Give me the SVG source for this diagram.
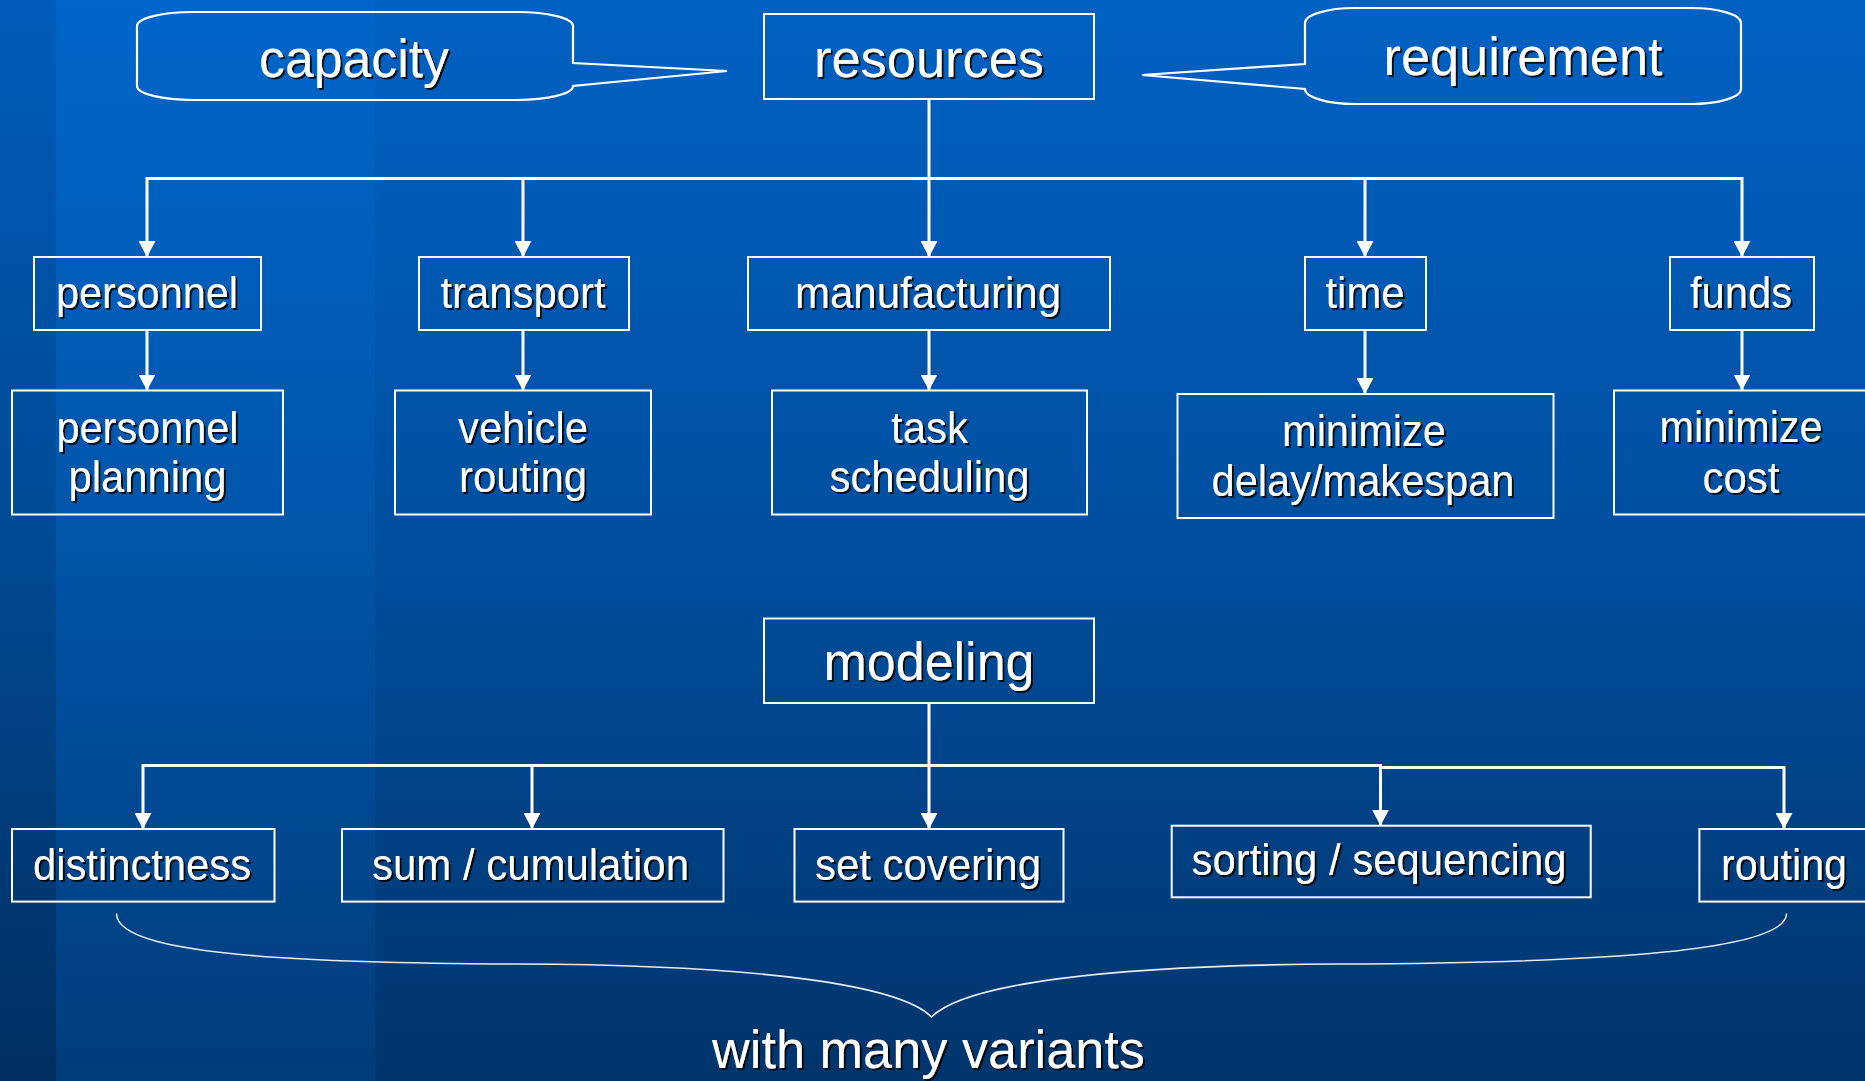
<svg xmlns="http://www.w3.org/2000/svg" width="1865" height="1081" viewBox="0 0 1865 1081">
<style>
.box{fill:none;stroke:#ffffff;stroke-width:2}
.call{fill:none;stroke:#ffffff;stroke-width:2.2;stroke-linejoin:miter}
.con{fill:none;stroke:#ffffff;stroke-width:3}
.brace{fill:none;stroke:#e6ecf5;stroke-width:1.6}
text{font-family:"Liberation Sans",Arial,Helvetica,sans-serif;fill:#ffffff;text-anchor:middle;filter:url(#sh)}
.big{font-size:54.5px}
.med{font-size:44px}
</style>
<defs>
<linearGradient id="bg" x1="0" y1="0" x2="0" y2="1">
<stop offset="0" stop-color="#0061c2"/>
<stop offset="0.5" stop-color="#004f9f"/>
<stop offset="1" stop-color="#00346b"/>
</linearGradient>
<linearGradient id="bgL" x1="0" y1="0" x2="0" y2="1">
<stop offset="0" stop-color="#0066cb"/>
<stop offset="0.5" stop-color="#0055a8"/>
<stop offset="1" stop-color="#003c7a"/>
</linearGradient>
<linearGradient id="bgD" x1="0" y1="0" x2="0" y2="1">
<stop offset="0" stop-color="#005bb8"/>
<stop offset="0.5" stop-color="#004a94"/>
<stop offset="1" stop-color="#002f61"/>
</linearGradient>
<filter id="sh" x="-10%" y="-20%" width="120%" height="140%">
<feDropShadow dx="2" dy="2" stdDeviation="0.3" flood-color="#000000" flood-opacity="0.85"/>
</filter>
<marker id="ah" markerUnits="userSpaceOnUse" markerWidth="16" markerHeight="17" viewBox="0 0 16 17" refX="16" refY="8.5" orient="auto">
<path d="M0,0 L16,8.5 L0,17 Z" fill="#ffffff"/>
</marker>
</defs>
<rect x="0" y="0" width="1865" height="1081" fill="url(#bg)"/>
<rect x="0" y="0" width="56" height="1081" fill="url(#bgD)"/>
<rect x="56" y="0" width="319" height="1081" fill="url(#bgL)"/>

<g id="connectors">
<path class="con" d="M929,99 V257" marker-end="url(#ah)"/>
<path class="con" d="M929,178.5 H147 V257" marker-end="url(#ah)"/>
<path class="con" d="M523,178.5 V257" marker-end="url(#ah)"/>
<path class="con" d="M929,178.5 H1742 V257" marker-end="url(#ah)"/>
<path class="con" d="M1365,178.5 V257" marker-end="url(#ah)"/>
<path class="con" d="M147,330 V390.5" marker-end="url(#ah)"/>
<path class="con" d="M523,330 V390.5" marker-end="url(#ah)"/>
<path class="con" d="M929,330 V390.5" marker-end="url(#ah)"/>
<path class="con" d="M1365,330 V394" marker-end="url(#ah)"/>
<path class="con" d="M1742,330 V390.5" marker-end="url(#ah)"/>
<path class="con" d="M929,703 V829" marker-end="url(#ah)"/>
<path class="con" d="M929,765.5 H143 V829" marker-end="url(#ah)"/>
<path class="con" d="M532,765.5 V829" marker-end="url(#ah)"/>
<path class="con" d="M929,765.5 H1380.5 V825.7" marker-end="url(#ah)"/>
<path class="con" d="M1380.5,767.5 H1784 V829" marker-end="url(#ah)"/>
<path class="brace" d="M116.5,913.5 C116.5,950 250,963 520,964 C760,965 900,985 931.5,1017 C963,985 1100,965 1340,964 C1610,963 1786.5,950 1786.5,913.5"/>
</g>

<g id="capacity">
<path class="call" d="M137,26 A56 14 0 0 1 193,12 L517,12 A56 14 0 0 1 573,26 L573,63 L727,71 L573,86 A56 14 0 0 1 517,100 L193,100 A56 14 0 0 1 137,86 Z"/>
<text class="big" x="354" y="77" textLength="190" lengthAdjust="spacingAndGlyphs">capacity</text>
</g>
<g id="resources">
<rect class="box" x="764" y="14" width="330" height="85"/>
<text class="big" x="929" y="76.5" textLength="230" lengthAdjust="spacingAndGlyphs">resources</text>
</g>
<g id="requirement">
<path class="call" d="M1305,64 L1305,23 A50 15 0 0 1 1355,8 L1691,8 A50 15 0 0 1 1741,23 L1741,89 A50 15 0 0 1 1691,104 L1355,104 A50 15 0 0 1 1305,89 L1142,75 Z"/>
<text class="big" x="1523" y="75" textLength="279" lengthAdjust="spacingAndGlyphs">requirement</text>
</g>

<g id="personnel">
<rect class="box" x="34" y="257" width="227" height="73"/>
<text class="med" x="147" y="308" textLength="182" lengthAdjust="spacingAndGlyphs">personnel</text>
</g>
<g id="transport">
<rect class="box" x="419" y="257" width="210" height="73"/>
<text class="med" x="523" y="308" textLength="165" lengthAdjust="spacingAndGlyphs">transport</text>
</g>
<g id="manufacturing">
<rect class="box" x="748" y="257" width="362" height="73"/>
<text class="med" x="928" y="308" textLength="266" lengthAdjust="spacingAndGlyphs">manufacturing</text>
</g>
<g id="time">
<rect class="box" x="1305" y="257" width="121" height="73"/>
<text class="med" x="1365" y="308" textLength="79" lengthAdjust="spacingAndGlyphs">time</text>
</g>
<g id="funds">
<rect class="box" x="1670" y="257" width="144" height="73"/>
<text class="med" x="1741" y="308" textLength="102" lengthAdjust="spacingAndGlyphs">funds</text>
</g>

<g id="personnel-planning">
<rect class="box" x="12" y="390.5" width="271" height="124"/>
<text class="med" x="147.5" y="443" textLength="182" lengthAdjust="spacingAndGlyphs">personnel</text>
<text class="med" x="147.5" y="492" textLength="158" lengthAdjust="spacingAndGlyphs">planning</text>
</g>
<g id="vehicle-routing">
<rect class="box" x="395" y="390.5" width="256" height="124"/>
<text class="med" x="523" y="443" textLength="130" lengthAdjust="spacingAndGlyphs">vehicle</text>
<text class="med" x="523" y="492" textLength="128" lengthAdjust="spacingAndGlyphs">routing</text>
</g>
<g id="task-scheduling">
<rect class="box" x="772" y="390.5" width="315" height="124"/>
<text class="med" x="929.5" y="443" textLength="77" lengthAdjust="spacingAndGlyphs">task</text>
<text class="med" x="929.5" y="492" textLength="200" lengthAdjust="spacingAndGlyphs">scheduling</text>
</g>
<g id="minimize-delay">
<rect class="box" x="1177.5" y="394" width="376" height="124"/>
<text class="med" x="1364" y="446" textLength="164" lengthAdjust="spacingAndGlyphs">minimize</text>
<text class="med" x="1363" y="495.5" textLength="303" lengthAdjust="spacingAndGlyphs">delay/makespan</text>
</g>
<g id="minimize-cost">
<rect class="box" x="1614" y="390.5" width="280" height="124"/>
<text class="med" x="1741" y="442" textLength="163" lengthAdjust="spacingAndGlyphs">minimize</text>
<text class="med" x="1741" y="493" textLength="77" lengthAdjust="spacingAndGlyphs">cost</text>
</g>

<g id="modeling">
<rect class="box" x="764" y="618.5" width="330" height="84.5"/>
<text class="big" x="929" y="680" textLength="211" lengthAdjust="spacingAndGlyphs">modeling</text>
</g>

<g id="distinctness">
<rect class="box" x="12" y="829" width="262.5" height="72.6"/>
<text class="med" x="142" y="880" textLength="218" lengthAdjust="spacingAndGlyphs">distinctness</text>
</g>
<g id="sum-cumulation">
<rect class="box" x="342" y="829" width="381.5" height="72.6"/>
<text class="med" x="530.5" y="880" textLength="317" lengthAdjust="spacingAndGlyphs">sum / cumulation</text>
</g>
<g id="set-covering">
<rect class="box" x="794.5" y="829" width="269" height="72.6"/>
<text class="med" x="928" y="880" textLength="226" lengthAdjust="spacingAndGlyphs">set covering</text>
</g>
<g id="sorting-sequencing">
<rect class="box" x="1171.7" y="825.7" width="419" height="71.6"/>
<text class="med" x="1379" y="875" textLength="375" lengthAdjust="spacingAndGlyphs">sorting / sequencing</text>
</g>
<g id="routing">
<rect class="box" x="1699.4" y="829" width="200" height="72.6"/>
<text class="med" x="1784" y="880" textLength="126" lengthAdjust="spacingAndGlyphs">routing</text>
</g>

<g id="variants-label">
<text class="big" x="928.5" y="1068" textLength="433" lengthAdjust="spacingAndGlyphs">with many variants</text>
</g>
</svg>
